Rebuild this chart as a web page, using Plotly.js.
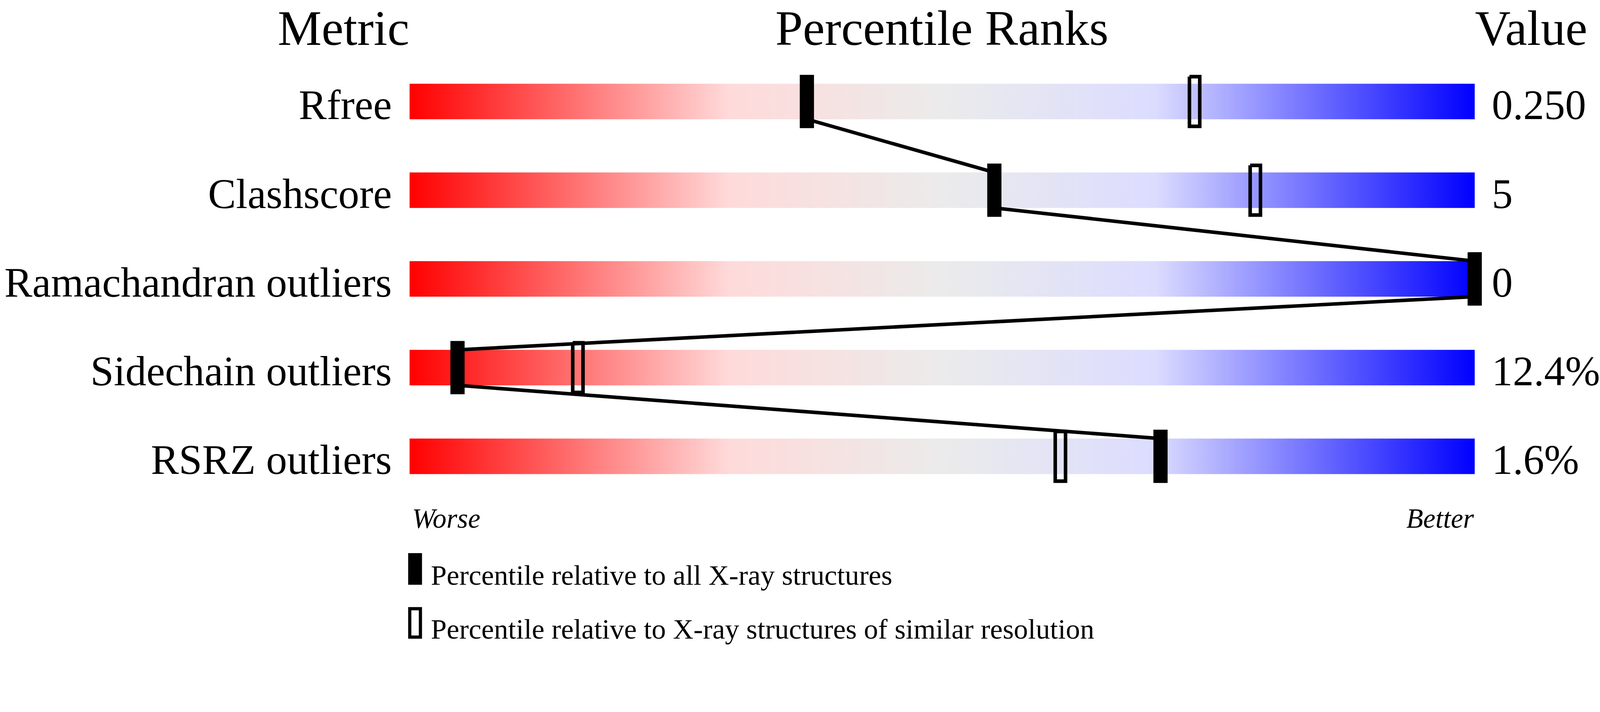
<!DOCTYPE html>
<html>
<head>
<meta charset="utf-8">
<script src="https://cdn.plot.ly/plotly-3.0.1.min.js"></script>
<style>
  html, body { margin: 0; padding: 0; background: #fff; overflow: hidden; }
</style>
</head>
<body>
<div id="chart"></div>
<script>
// metrics shown top to bottom
const metrics = ['Rfree', 'Clashscore', 'Ramachandran outliers', 'Sidechain outliers', 'RSRZ outliers'];
const values = ['0.250', '5', '0', '12.4%', '1.6%'];
// percentile relative to all X-ray structures (filled marker)
const pctAll = [37.3, 54.9, 100, 4.5, 70.5];
// percentile relative to X-ray structures of similar resolution (open marker)
const pctRes = [73.7, 79.4, 100, 15.8, 61.1];
const scaleEnds = [0, 100];
const legendLabels = ['Percentile relative to all X-ray structures',
                      'Percentile relative to X-ray structures of similar resolution'];

// layout is worked out in picture pixels, then scaled to the viewport
const W = 4506, H = 1824;
const s = (window.innerWidth || W) / W;
const barLeft = 1153, barRight = 4153;
const pxPerUnit = (barRight - barLeft) / 100;
// plot area edges sit where the metric / value labels start
const plotLeft = 1104, plotRight = 4200;
const rowPx = 250, row0 = 286;
const serif = 'Liberation Serif, Times New Roman, serif';

const rows = metrics.map((m, i) => i);
const px2x = p => (p - barLeft) / pxPerUnit;
const px2y = p => (p - row0) / rowPx;
const halfBar = 50 / rowPx;

const gradient = [
  [0, 'rgb(255,0,0)'],
  [0.3, 'rgb(255,218,218)'],
  [0.5, 'rgb(235,235,235)'],
  [0.7, 'rgb(220,220,255)'],
  [1, 'rgb(0,0,255)']
];

// rectangles around (pct, row) as one path with gaps
function rects(pcts, wPx, hPx) {
  const hw = wPx / 2 / pxPerUnit, hh = hPx / 2 / rowPx;
  const x = [], y = [];
  pcts.forEach((p, r) => {
    x.push(p - hw, p + hw, p + hw, p - hw, p - hw, null);
    y.push(r - hh, r - hh, r + hh, r + hh, r - hh, null);
  });
  return {x, y};
}

const traces = [];

// gradient slider for each metric
rows.forEach(r => {
  traces.push({
    type: 'scatter', mode: 'none', fill: 'toself',
    x: [scaleEnds[0], scaleEnds[1], scaleEnds[1], scaleEnds[0], scaleEnds[0]],
    y: [r - halfBar, r - halfBar, r + halfBar, r + halfBar, r - halfBar],
    fillgradient: {type: 'horizontal', colorscale: gradient, start: scaleEnds[0], stop: scaleEnds[1]},
    hoverinfo: 'skip', showlegend: false
  });
});

// zig-zag line joining the filled markers
const lx = [], ly = [];
rows.forEach(r => {
  lx.push(pctAll[r], pctAll[r]);
  ly.push(r - halfBar, r + halfBar);
});
traces.push({
  type: 'scatter', mode: 'lines', x: lx, y: ly,
  line: {color: 'black', width: 10 * s},
  hoverinfo: 'skip', showlegend: false
});

// open markers (similar resolution)
const openR = rects(pctRes, 29, 140);
traces.push({
  type: 'scatter', mode: 'lines', x: openR.x, y: openR.y, connectgaps: false,
  line: {color: 'black', width: 10 * s},
  hoverinfo: 'skip', showlegend: false
});

// filled markers (all X-ray structures)
const fillR = rects(pctAll, 40, 150);
traces.push({
  type: 'scatter', mode: 'none', fill: 'toself', x: fillR.x, y: fillR.y,
  fillcolor: 'black', connectgaps: false,
  hoverinfo: 'skip', showlegend: false
});

// dummy trace so that yaxis2 is drawn
traces.push({type: 'scatter', mode: 'none', x: [50], y: [0], yaxis: 'y2',
             hoverinfo: 'skip', showlegend: false});

const labelSize = 118, valueSize = 118;
const tickPosFor = fs => rows.map(r => r + (50 - 0.35 * fs) / rowPx); // baseline on bar bottom
const yRange = [px2y(H), px2y(0)];

// baseline -> annotation centre
const mid = (baseline, fs) => px2y(baseline - 0.34 * fs);
const headBase = 126, headSize = 139;
const leg1Base = 1648, leg2Base = 1800, legSize = 80;

const annotations = [
  {text: 'Metric', x: 0, xanchor: 'right', y: mid(headBase, headSize), size: headSize},
  {text: 'Percentile Ranks', x: 50, xanchor: 'center', y: mid(headBase, headSize), size: headSize},
  {text: 'Value', x: 100, xanchor: 'left', y: mid(headBase, headSize), size: headSize},
  {text: '<i>Worse</i>', x: 0.2, xanchor: 'left', y: mid(1487, 78), size: 78},
  {text: '<i>Better</i>', x: 100, xanchor: 'right', y: mid(1487, 78), size: 78},
  {text: legendLabels[0], x: px2x(1212), xanchor: 'left', y: mid(leg1Base, legSize), size: legSize},
  {text: legendLabels[1], x: px2x(1212), xanchor: 'left', y: mid(leg2Base, legSize), size: legSize}
].map(a => ({
  text: a.text, x: a.x, y: a.y, xref: 'x', yref: 'y',
  xanchor: a.xanchor, yanchor: 'middle', showarrow: false, borderpad: 0,
  font: {family: serif, size: a.size * s, color: 'black'}
}));

// legend swatches, bottom edge on the text baseline
const shapes = [
  {type: 'rect', xref: 'x', yref: 'y', x0: px2x(1149), x1: px2x(1188),
   y0: px2y(leg1Base - 89), y1: px2y(leg1Base), fillcolor: 'black', line: {width: 0}},
  {type: 'rect', xref: 'x', yref: 'y', x0: px2x(1153.5), x1: px2x(1183.5),
   y0: px2y(leg2Base - 84.5), y1: px2y(leg2Base - 4.5),
   fillcolor: 'rgba(0,0,0,0)', line: {color: 'black', width: 9 * s}}
];

const hiddenTicks = {ticks: '', showgrid: false, zeroline: false, showline: false};

const layout = {
  width: W * s, height: H * s,
  margin: {l: plotLeft * s, r: (W - plotRight) * s, t: 0, b: 0, pad: 0},
  paper_bgcolor: 'white', plot_bgcolor: 'rgba(0,0,0,0)',
  showlegend: false,
  xaxis: {range: [px2x(plotLeft), px2x(plotRight)], showgrid: false, zeroline: false,
          showticklabels: false, showline: false, ticks: '', fixedrange: true},
  yaxis: Object.assign({range: yRange, tickvals: tickPosFor(labelSize), ticktext: metrics,
          tickfont: {family: serif, size: labelSize * s, color: 'black'}}, hiddenTicks),
  yaxis2: Object.assign({range: yRange, overlaying: 'y', side: 'right', anchor: 'x',
           tickvals: tickPosFor(valueSize), ticktext: values,
           tickfont: {family: serif, size: valueSize * s, color: 'black'}}, hiddenTicks),
  annotations: annotations,
  shapes: shapes
};

Plotly.newPlot('chart', traces, layout, {staticPlot: true, displayModeBar: false});
</script>
</body>
</html>
